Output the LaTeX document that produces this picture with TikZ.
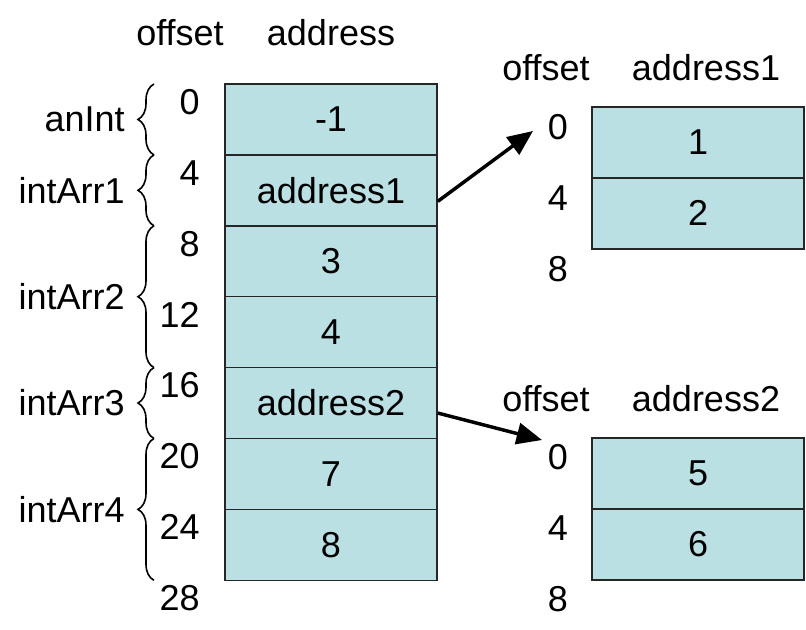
\documentclass[tikz,border=0pt]{standalone}
\usepackage{fontspec}
\setmainfont{Liberation Sans}
\usetikzlibrary{arrows.meta,calc,decorations.pathreplacing}
\definecolor{cellblue}{HTML}{BBE0E3}
\tikzset{
  txt/.style={font=\fontsize{27}{30}\selectfont,inner sep=0pt},
  cell/.style={txt,draw=black!85,line width=1.2pt,fill=cellblue,
    minimum width=159pt,minimum height=53.2pt},
  membrace/.style={decorate,decoration={brace,amplitude=12pt},line width=1.2pt},
  ptr/.style={line width=2.6pt,-{Triangle[length=19pt,width=16pt]}}
}
\begin{document}
\begin{tikzpicture}[x=0.75pt,y=-0.75pt]
  % pixel grid: x to the right, y downwards; rows are 70.9 high
  \path[use as bounding box] (0,0) rectangle (806,630);
  \node[txt] (hoff) at (180,33) {offset};
  \node[txt] (hadr) at (331,33) {address};
  \foreach \v [count=\i from 0] in {-1,address1,3,4,address2,7,8}
    \node[cell] (m\i) at (331,{84+70.9*(\i+0.5)}) {\v};
  \foreach \o [count=\i from 0] in {0,4,8,12,16,20,24,28}
    \node[txt,anchor=east] (o\i) at (200,{102+70.9*\i}) {\o};
  \foreach \a/\b/\n in {0/1/anInt,1/2/intArr1,2/4/intArr2,4/5/intArr3,5/7/intArr4} {
    \draw[membrace] (154,{84+70.9*\b}) -- (154,{84+70.9*\a});
    \node[txt,anchor=east] (g\a) at (125,{84+70.9*(\a+\b)/2}) {\n};
  }
  % first pointed block
  \node[txt] (toff) at (546,68) {offset};
  \node[txt] (tadr) at (706,68) {address1};
  \foreach \v [count=\i from 0] in {1,2}
    \node[cell] (t\i) at (698,{107+70.9*(\i+0.5)}) {\v};
  \foreach \o [count=\i from 0] in {0,4,8}
    \node[txt] (to\i) at (558,{127+70.9*\i}) {\o};
  % second pointed block
  \node[txt] (boff) at (546,399) {offset};
  \node[txt] (badr) at (706,399) {address2};
  \foreach \v [count=\i from 0] in {5,6}
    \node[cell] (b\i) at (698,{438+70.9*(\i+0.5)}) {\v};
  \foreach \o [count=\i from 0] in {0,4,8}
    \node[txt] (bo\i) at (558,{457+70.9*\i}) {\o};
  % pointers
  \coordinate (p1) at (533,131);
  \coordinate (p2) at (542,440);
  \draw[ptr] ($(m1.east)+(0,11)$) -- (p1);
  \draw[ptr] ($(m4.east)+(0,10)$) -- (p2);
\end{tikzpicture}
\end{document}
